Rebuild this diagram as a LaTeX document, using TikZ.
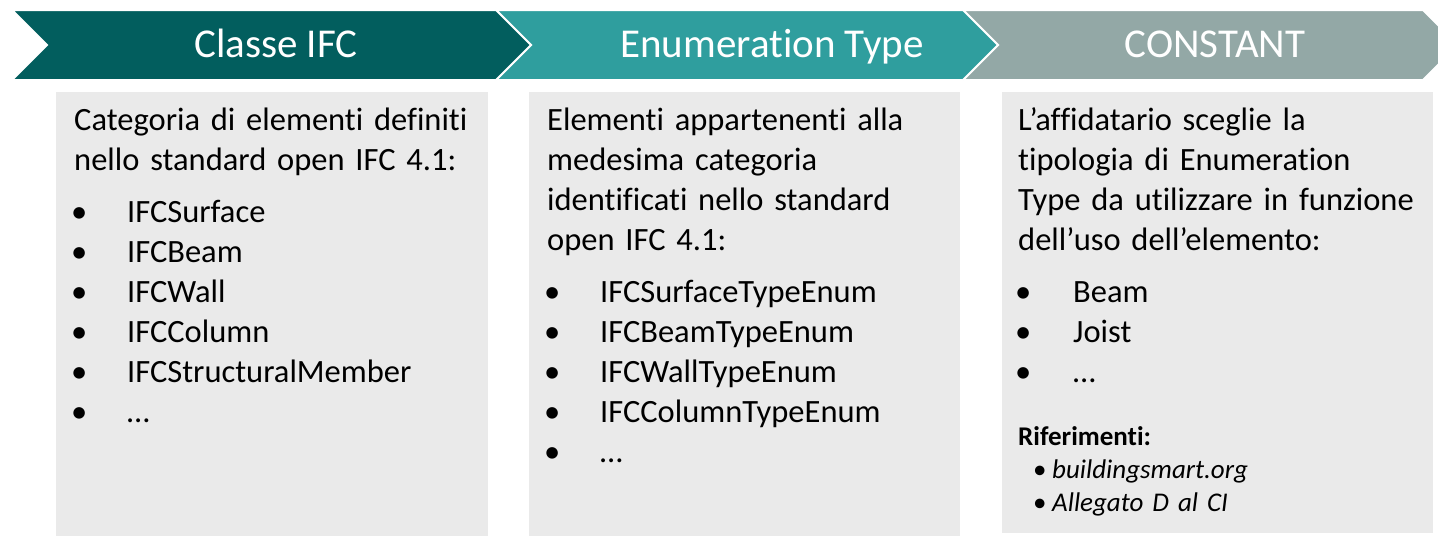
\documentclass[tikz,border=0pt]{standalone}
\usepackage{fontspec}
\setmainfont{Carlito}[Ligatures={NoCommon}]
\usetikzlibrary{positioning}

\definecolor{tealdark}{RGB}{2,94,94}
\definecolor{tealmid}{RGB}{47,158,158}
\definecolor{graygreen}{RGB}{147,168,166}
\definecolor{boxgray}{RGB}{234,234,234}

\newcommand{\itm}[2][53pt]{\makebox[#1][l]{\hspace*{-3pt}\textbullet}#2}
\newcommand{\rif}[1]{\hspace*{15pt}\makebox[19pt][l]{\textbullet}\textit{#1}}

\begin{document}
\begin{tikzpicture}[x=1pt,y=-1pt,
    chev/.style={draw=white,line width=2pt,line join=miter},
    title/.style={text=white,anchor=base,inner sep=0pt,font=\fontsize{41}{49}\selectfont},
    body/.style={anchor=base west,inner sep=0pt,align=left,text width=410pt,font=\fontsize{32.5}{40}\selectfont},
    refs/.style={anchor=base west,inner sep=0pt,align=left,text width=400pt,font=\fontsize{27}{33}\selectfont}]
    \useasboundingbox (0,0) rectangle (1438,536);
    \clip (0,0) rectangle (1438,536);

    % header chevrons
    \filldraw[chev,fill=graygreen] (963,10) -- (1423,10) -- (1458,45) -- (1423,80) -- (963,80) -- (998,45) -- cycle;
    \filldraw[chev,fill=tealmid] (496,10) -- (963,10) -- (998,45) -- (963,80) -- (496,80) -- (531,45) -- cycle;
    \filldraw[chev,fill=tealdark] (12,10) -- (496,10) -- (531,45) -- (496,80) -- (12,80) -- (47,45) -- cycle;

    \node[title] (h_1) at (276,57) {Classe IFC};
    \node[title] (h_2) at (772,57) {Enumeration Type};
    \node[title] (h_3) at (1215,57) {CONSTANT};

    % gray boxes
    \fill[boxgray] (56,92) rectangle (488,536);
    \fill[boxgray] (529,92) rectangle (960,536);
    \fill[boxgray] (1002,92) rectangle (1433,533);

    \node[body] (t_1) at (74,130) {Categoria di elementi definiti\\
        nello standard open IFC 4.1:\\[12pt]
        \itm{IFCSurface}\\
        \itm{IFCBeam}\\
        \itm{IFCWall}\\
        \itm{IFCColumn}\\
        \itm{IFCStructuralMember}\\
        \itm{…}};

    \node[body] (t_2) at (547,130) {Elementi appartenenti alla\\
        medesima categoria\\
        identificati nello standard\\
        open IFC 4.1:\\[12pt]
        \itm{IFCSurfaceTypeEnum}\\
        \itm{IFCBeamTypeEnum}\\
        \itm{IFCWallTypeEnum}\\
        \itm{IFCColumnTypeEnum}\\
        \itm{…}};

    \node[body] (t_3) at (1018,130) {L’affidatario sceglie la\\
        tipologia di Enumeration\\
        Type da utilizzare in funzione\\
        dell’uso dell’elemento:\\[12pt]
        \itm[55pt]{Beam}\\
        \itm[55pt]{Joist}\\
        \itm[55pt]{…}};

    \node[refs] (r_3) at (1018,445) {\textbf{Riferimenti:}\\
        \rif{buildingsmart.org}\\
        \rif{Allegato D al CI}};
\end{tikzpicture}
\end{document}
